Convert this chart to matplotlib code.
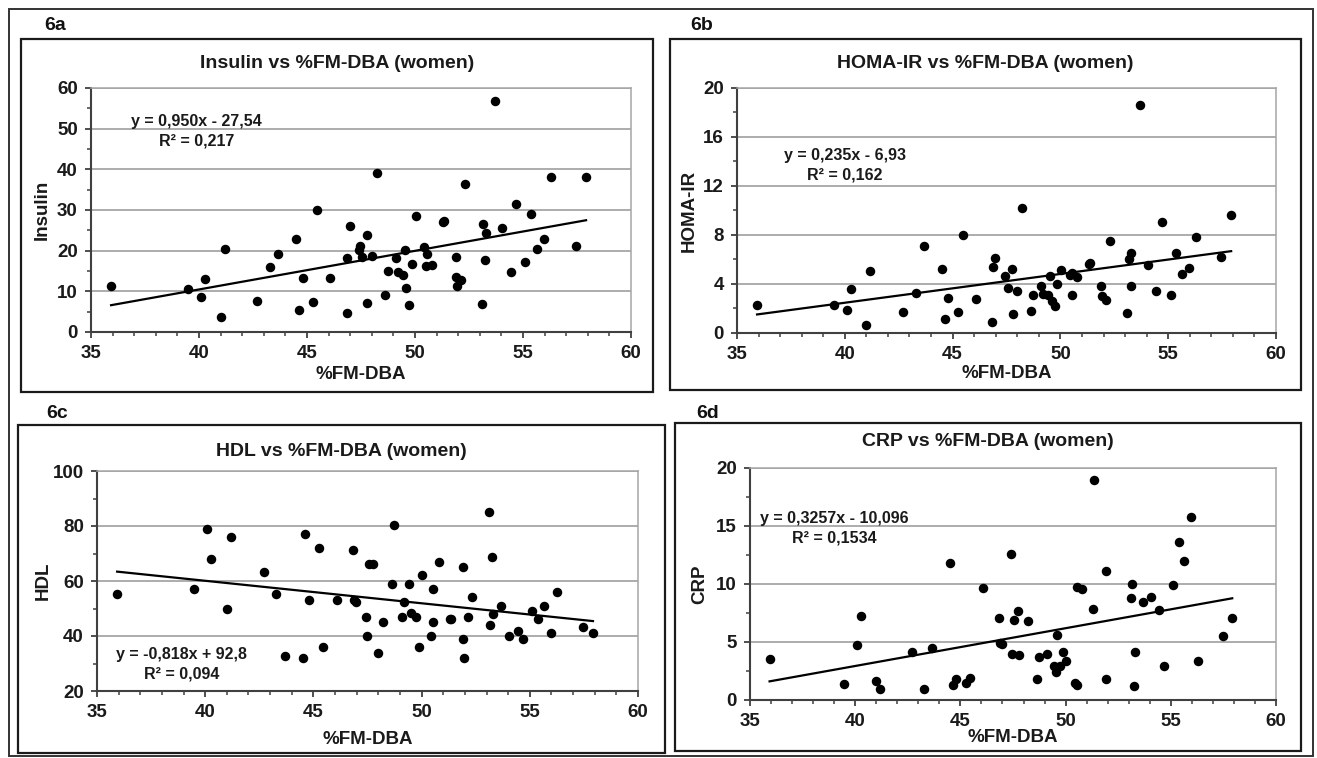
import numpy as np
import matplotlib
matplotlib.use('Agg')
import matplotlib.pyplot as plt
from matplotlib.patches import Rectangle
from matplotlib.ticker import MultipleLocator

plt.rcParams['font.family'] = ['Liberation Sans', 'DejaVu Sans']

W, H = 1317, 758
nan = np.nan

# %FM-DBA of each woman (same x in all four panels)
fm_dba = [35.93, 39.49, 40.10, 40.29, 41.00, 41.19, 42.70, 43.29, 43.67, 44.50,
          44.63, 44.80, 45.27, 45.46, 46.08, 46.84, 46.86, 46.97, 47.42, 47.46,
          47.56, 47.76, 47.80, 48.00, 48.22, 48.63, 48.73, 49.10, 49.20, 49.44,
          49.52, 49.60, 49.73, 49.86, 50.03, 50.43, 50.54, 50.52, 50.79, 51.31,
          51.35, 51.90, 51.92, 51.94, 52.13, 52.31, 53.11, 53.16, 53.26, 53.28,
          53.69, 54.05, 54.45, 54.69, 55.11, 55.37, 55.64, 55.98, 56.28, 57.47,
          57.92]

insulin = [11.3, 10.6, 8.5, 13.1, 3.8, 20.3, 7.5, 16.0, 19.2, 22.9,
           5.5, 13.2, 7.3, 30.1, 13.2, 4.6, 18.2, 26.0, 20.2, 21.2,
           18.4, 23.9, 7.1, 18.7, 39.0, 9.0, 14.9, 18.1, 14.7, 14.0,
           20.1, 10.9, 6.7, 16.6, 28.6, 20.9, 19.3, 16.2, 16.4, 27.0,
           27.2, 18.4, 13.5, 11.3, 12.9, 36.4, 6.9, 26.5, 17.7, 24.4,
           56.8, 25.6, 14.7, 31.5, 17.2, 29.0, 20.4, 22.8, 38.0, 21.2,
           38.0]

homa_ir = [2.31, 2.31, 1.88, 3.62, 0.65, 5.09, 1.74, 3.29, 7.07, 5.25,
           1.17, 2.86, 1.69, 8.03, 2.80, 0.90, 5.41, 6.09, 4.68, nan,
           3.67, 5.20, 1.52, 3.46, 10.2, 1.82, 3.13, 3.86, 3.18, 3.07,
           4.65, 2.64, 2.23, 4.03, 5.17, 4.71, 4.93, 3.07, 4.60, 5.61,
           5.75, 3.84, 2.99, nan, 2.72, 7.48, 1.63, 6.04, 3.81, 6.53,
           18.64, 5.52, 3.46, 9.06, 3.13, 6.50, 4.79, 5.28, 7.84, 6.23,
           9.63]

hdl = [55.2, 57.1, 79.0, 68.0, 49.9, 76.0, 63.2, 55.2, 32.8, 32.1,
       77.2, 53.0, 71.9, 35.9, 53.0, 71.2, 53.2, 52.2, 46.9, 40.0,
       66.2, 66.2, nan, 33.9, 45.0, 59.0, 80.2, 46.9, 52.2, 59.0,
       48.2, nan, 46.9, 35.9, 62.1, 40.0, 57.1, 45.0, 67.0, 46.1,
       46.1, 65.1, 38.9, 32.1, 46.9, 54.1, 85.1, 43.9, 68.8, 48.0,
       51.0, 40.0, 41.9, 38.9, 49.1, 46.1, 51.0, 41.2, 56.0, 43.2,
       41.2]

crp = [3.50, 1.35, 4.71, 7.23, 1.61, 0.92, 4.10, 0.92, 4.51, 11.79,
       1.32, 1.84, 1.43, 1.92, 9.67, 7.09, 4.94, 4.82, 12.60, 3.96,
       6.86, 7.66, 3.90, nan, 6.80, 1.84, 3.73, 3.96, nan, 2.93,
       2.41, 5.60, 2.93, 4.16, 3.39, 1.43, 9.78, 1.32, 9.56, 7.83,
       19.0, 1.78, 11.16, nan, nan, nan, 8.78, 9.99, 1.21, 4.13,
       8.49, 8.90, 7.75, 2.93, 9.90, 13.63, 11.99, 15.81, 3.36, 5.48,
       7.09]

# printed regression lines (slope, intercept)
fit_insulin = (0.950, -27.54)
fit_homa = (0.235, -6.93)
fit_hdl = (-0.818, 92.8)
fit_crp = (0.3257, -10.096)

eq_insulin = 'y = 0,950x - 27,54\nR² = 0,217'
eq_homa = 'y = 0,235x - 6,93\nR² = 0,162'
eq_hdl = 'y = -0,818x + 92,8\nR² = 0,094'
eq_crp = 'y = 0,3257x - 10,096\nR² = 0,1534'


def rect(x0, y0, x1, y1):
    return [x0 / W, 1 - y1 / H, (x1 - x0) / W, (y1 - y0) / H]


def ftext(x, y, s, **kw):
    fig.text(x / W, 1 - y / H, s, **kw)


def box(x0, y0, x1, y1, lw=1.6, color='#1a1a1a'):
    fig.add_artist(Rectangle((x0 / W, 1 - y1 / H), (x1 - x0) / W, (y1 - y0) / H,
                             transform=fig.transFigure, fill=False, lw=lw, color=color))


def panel(tag, tag_xy, frame, area, title, title_xy, ylabel, ylabel_x, xlabel_y,
          y, fit, eq, eq_xy, ylim, major, minor):
    box(*frame)
    ftext(tag_xy[0], tag_xy[1], tag, fontsize=14, fontweight='bold',
          ha='center', va='center', color='#111111')
    ftext(title_xy[0], title_xy[1], title, fontsize=14, fontweight='bold',
          ha='center', va='center', color='#1a1a1a')

    ax = fig.add_axes(rect(*area))
    x = np.array(fm_dba)
    y = np.array(y)
    ax.scatter(x, y, s=34, color='black', zorder=3, clip_on=False)

    ok = ~np.isnan(y)
    xl = np.array([x[ok].min(), x[ok].max()])
    ax.plot(xl, fit[0] * xl + fit[1], color='black', lw=1.6, zorder=2)

    ax.set_xlim(35, 60)
    ax.set_ylim(*ylim)
    ax.xaxis.set_major_locator(MultipleLocator(5))
    ax.xaxis.set_minor_locator(MultipleLocator(1))
    ax.yaxis.set_major_locator(MultipleLocator(major))
    ax.yaxis.set_minor_locator(MultipleLocator(minor))
    ax.grid(axis='y', which='major', color='#a6a6a6', lw=1.3)
    ax.set_axisbelow(True)
    for s in ['top', 'right']:
        ax.spines[s].set_color('#a6a6a6')
        ax.spines[s].set_linewidth(1.1)
    for s in ['left', 'bottom']:
        ax.spines[s].set_color('#404040')
        ax.spines[s].set_linewidth(1.5)
    ax.tick_params(which='major', direction='out', length=4.5, width=1.3,
                   color='#404040', labelsize=13.5, labelcolor='#1a1a1a', pad=5)
    ax.tick_params(which='minor', direction='out', length=3, width=1.1,
                   color='#404040')
    for lab in ax.get_xticklabels() + ax.get_yticklabels():
        lab.set_fontweight('bold')

    ax.text(eq_xy[0], eq_xy[1], eq, transform=ax.transAxes, ha='center',
            va='center', fontsize=11.5, fontweight='bold', color='#1a1a1a',
            linespacing=1.35, zorder=4)

    x0, y0, x1, y1 = area
    ftext((x0 + x1) / 2, xlabel_y, '%FM-DBA', fontsize=13.5, fontweight='bold',
          ha='center', va='center', color='#1a1a1a')
    ftext(ylabel_x, (y0 + y1) / 2, ylabel, fontsize=13.5, fontweight='bold',
          ha='center', va='center', rotation=90, color='#1a1a1a')
    return ax


fig = plt.figure(figsize=(W / 100, H / 100), dpi=100)

# outer frame
box(9, 9, 1313, 756, lw=1.4, color='#333333')

panel('6a', (55, 25), (21, 39, 653, 392), (91, 88, 631, 332),
      'Insulin vs %FM-DBA (women)', (337, 64), 'Insulin', 42, 375,
      insulin, fit_insulin, eq_insulin, (0.196, 0.822), (0, 60), 10, 5)

panel('6b', (702, 25), (670, 39, 1301, 390), (737, 88, 1276, 333),
      'HOMA-IR vs %FM-DBA (women)', (985, 63), 'HOMA-IR', 689, 373,
      homa_ir, fit_homa, eq_homa, (0.200, 0.686), (0, 20), 4, 2)

panel('6c', (57, 413), (18, 425, 665, 753), (97, 471, 638, 691),
      'HDL vs %FM-DBA (women)', (341, 451), 'HDL', 43, 740,
      hdl, fit_hdl, eq_hdl, (0.157, 0.123), (20, 100), 20, 10)

panel('6d', (708, 413), (675, 423, 1301, 751), (750, 468, 1276, 700),
      'CRP vs %FM-DBA (women)', (988, 442), 'CRP', 700, 737,
      crp, fit_crp, eq_crp, (0.160, 0.741), (0, 20), 5, 2.5)

fig.savefig('out.png', dpi=100)
